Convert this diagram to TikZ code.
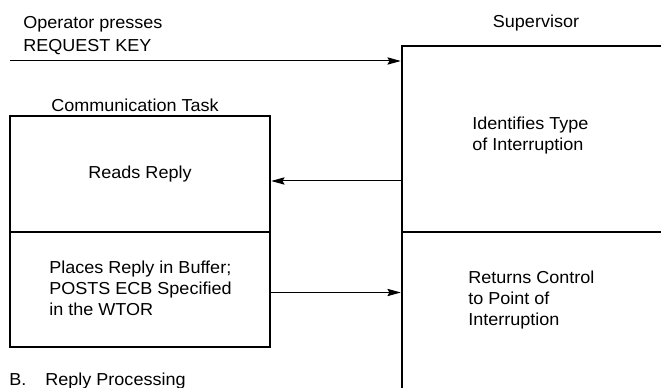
\documentclass[tikz,border=0pt]{standalone}
\usepackage{fontspec}
\setmainfont{Liberation Sans}[FakeStretch=1.04]
\usetikzlibrary{arrows.meta,fit}
\begin{document}
\begin{tikzpicture}[x=0.75pt,y=-0.75pt,
  boxline/.style={draw, line width=1.9pt, inner sep=0pt},
  conn/.style={line width=0.75pt, -{Stealth[length=10pt,width=5.5pt,inset=1.5pt]}},
  lbl/.style={font=\fontsize{13}{15.75}\selectfont, inner sep=0pt},
  txt/.style={lbl, align=left, anchor=north west}]
\useasboundingbox (0,0) rectangle (661,388);
\begin{scope}
\clip (0,0) rectangle (661,388);
\node[boxline, fit={(10,116) (270,232)}] (reads) {};
\node[boxline, fit={(10,232) (270,347)}] (places) {};
\node[boxline, fit={(402,46) (720,232)}] (ident) {};
\node[boxline, fit={(402,232) (720,440)}] (returns) {};
\end{scope}
% texts
\node[txt, font=\fontsize{13}{17.5}\selectfont] (optext) at (23,16) {Operator presses\\REQUEST KEY};
\node[lbl, anchor=north] (comm) at (135,99) {Communication Task};
\node[lbl, anchor=north] (sup) at (536,15) {Supervisor};
\node[txt] (identtext) at (472,117) {Identifies Type\\of Interruption};
\node[lbl] (readstext) at (reads.center) {Reads Reply};
\node[txt] (placestext) at (49,261) {Places Reply in Buffer;\\POSTS ECB Specified\\in the WTOR};
\node[txt] (rettext) at (468,271) {Returns Control\\to Point of\\Interruption};
\node[txt] (caption) at (9,373) {B.\hspace{1.1em}Reply Processing};
% connectors
\coordinate (opstart) at (10,61);
\coordinate (a2) at (402,181);
\coordinate (a3) at (270,292.5);
\draw[conn] (opstart) -- (opstart -| ident.west);
\draw[conn] (a2) -- (a2 -| reads.east);
\draw[conn] (a3) -- (a3 -| returns.west);
\end{tikzpicture}
\end{document}
